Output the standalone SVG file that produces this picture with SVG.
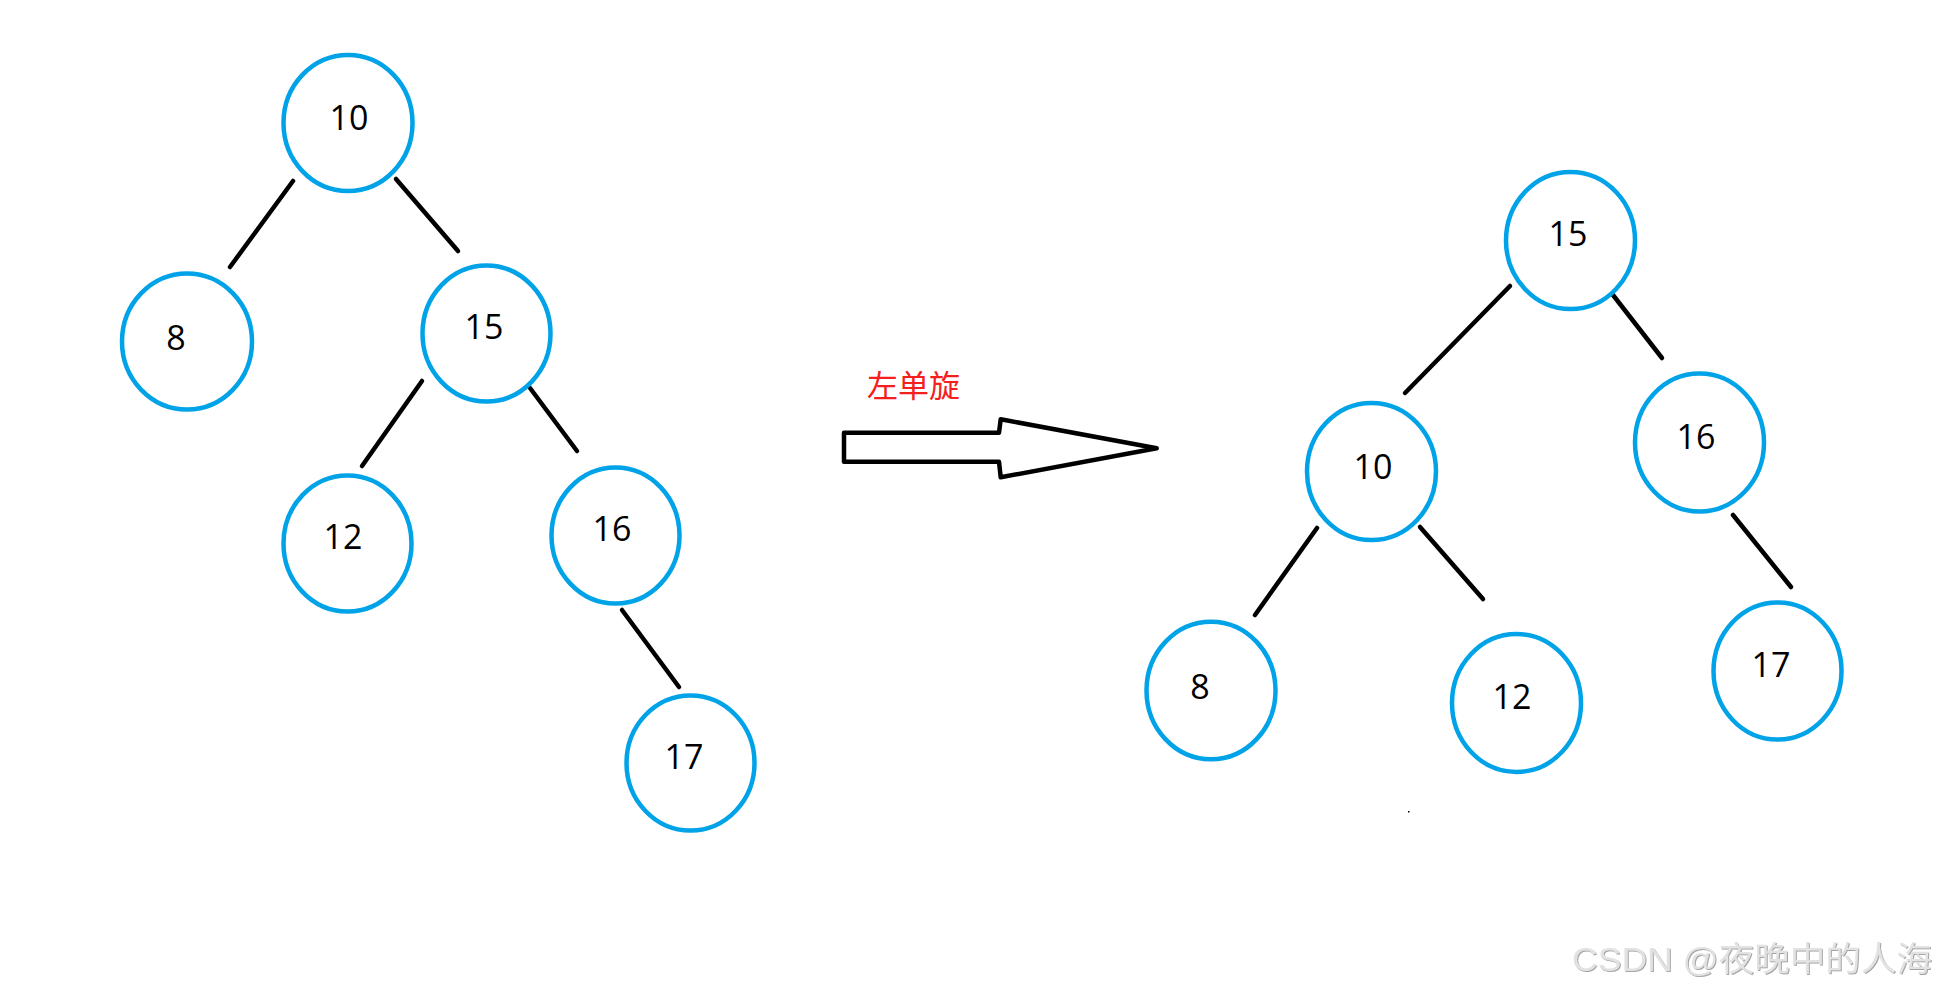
<svg xmlns="http://www.w3.org/2000/svg" width="1938" height="989" viewBox="0 0 1938 989">
<defs>
<style>
.n ellipse{fill:none;stroke:#00a2e8;stroke-width:4.5}
.n text{font-family:"Open Sans","Noto Sans","DejaVu Sans",sans-serif;font-size:34px;fill:#000;text-anchor:middle}
.e line{stroke:#000;stroke-width:4.5;stroke-linecap:round}
</style>
<filter id="emb" x="-5%" y="-20%" width="110%" height="140%">
<feDropShadow dx="1" dy="1" stdDeviation="0.6" flood-color="#9a9a9a" flood-opacity="0.9"/>
</filter>
</defs>
<rect width="1938" height="989" fill="#fff"/>

<g id="connectors" class="e">
<line x1="293" y1="181" x2="230" y2="267"/>
<line x1="396" y1="179" x2="458" y2="251"/>
<line x1="422" y1="381" x2="362" y2="466"/>
<line x1="530" y1="388" x2="577" y2="451"/>
<line x1="622" y1="610" x2="679" y2="687"/>
<line x1="1510" y1="286" x2="1405" y2="393"/>
<line x1="1613" y1="295" x2="1662" y2="358"/>
<line x1="1317" y1="528" x2="1255" y2="615"/>
<line x1="1420" y1="527" x2="1483" y2="599"/>
<line x1="1733" y1="515" x2="1791" y2="587"/>
</g>

<g id="L10" class="n"><ellipse cx="348" cy="123" rx="64.5" ry="68"/><text x="349" y="130">10</text></g>
<g id="L8" class="n"><ellipse cx="187" cy="341.5" rx="65" ry="68"/><text x="176" y="349.5">8</text></g>
<g id="L15" class="n"><ellipse cx="486.5" cy="333.5" rx="64" ry="68"/><text x="484" y="338.5">15</text></g>
<g id="L12" class="n"><ellipse cx="347.5" cy="543.5" rx="64" ry="68"/><text x="343" y="548.5">12</text></g>
<g id="L16" class="n"><ellipse cx="615.5" cy="535.5" rx="64" ry="68"/><text x="612" y="541">16</text></g>
<g id="L17" class="n"><ellipse cx="690.5" cy="763" rx="64" ry="67.5"/><text x="684" y="769">17</text></g>

<g id="arrow">
<path d="M844,432.7 L999,432.7 L1000.7,419.3 L1156.7,448.3 L1000.7,477.3 L999,461.7 L844,461.7 Z" fill="#fff" stroke="#000" stroke-width="4.5" stroke-linejoin="round"/>
<text x="913.5" y="397" font-family="'Noto Sans CJK SC',sans-serif" font-size="31" fill="#f42020" text-anchor="middle">左单旋</text>
</g>

<g id="R15" class="n"><ellipse cx="1570.5" cy="240.5" rx="64.5" ry="68.5"/><text x="1568" y="246">15</text></g>
<g id="R10" class="n"><ellipse cx="1371.5" cy="471.5" rx="64.5" ry="68.5"/><text x="1373" y="478.5">10</text></g>
<g id="R16" class="n"><ellipse cx="1699.5" cy="442.5" rx="64.5" ry="69"/><text x="1696" y="448.5">16</text></g>
<g id="R8" class="n"><ellipse cx="1211" cy="690.5" rx="64.5" ry="68.8"/><text x="1200" y="698.5">8</text></g>
<g id="R12" class="n"><ellipse cx="1516.5" cy="703" rx="64.5" ry="69"/><text x="1512" y="708.5">12</text></g>
<g id="R17" class="n"><ellipse cx="1777.5" cy="671" rx="64" ry="68.5"/><text x="1771" y="676.5">17</text></g>

<rect x="1408" y="811" width="1.5" height="1.5" fill="#000"/>

<text x="1572" y="971" font-family="'Liberation Sans','Noto Sans CJK SC',sans-serif" font-size="34" fill="#e2e2e2" textLength="360" lengthAdjust="spacingAndGlyphs" filter="url(#emb)">CSDN @夜晚中的人海</text>
</svg>
